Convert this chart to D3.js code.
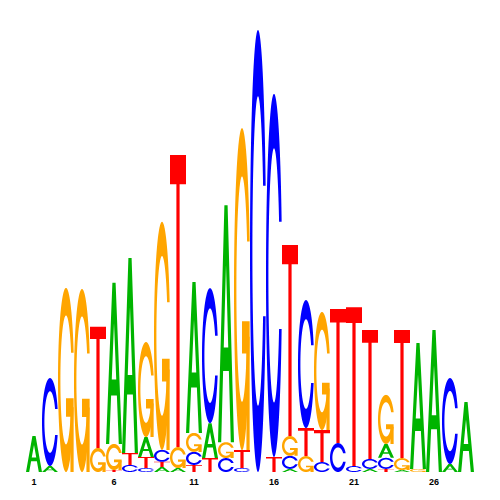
<!DOCTYPE html>
<html><head><meta charset="utf-8">
<script src="https://cdn.jsdelivr.net/npm/d3@7"></script>
<style>html,body{margin:0;padding:0;background:#fff;} svg{display:block}</style>
</head><body>
<svg id="chart" width="500" height="500"></svg>
<script>
// Sequence logo data: information (bits) per base at each position
const positions = d3.range(1, 29);
const bases = ["A", "C", "G", "T"];
const valuesA = [0.163,0.027,0,0,0,0.729,0.882,0.090,0.023,0.018,0.683,0.158,1.072,0,0,0,0.014,0,0,0,0,0.014,0.063,0.009,0.570,0.643,0.036,0.317];
const valuesC = [0,0.398,0,0,0,0,0.032,0.018,0.054,0,0.059,0.611,0.063,0.018,2.0,1.643,0.059,0.579,0.045,0.131,0.027,0.045,0.050,0,0,0,0.389,0];
const valuesG = [0,0,0.833,0.828,0.109,0.118,0,0.430,1.032,0.095,0.086,0,0.072,1.457,0,0,0.090,0.072,0.534,0,0,0,0.222,0.054,0.014,0,0,0];
const valuesT = [0,0,0,0,0.548,0.009,0.054,0.050,0.023,1.321,0.032,0.063,0,0.081,0,0.068,0.864,0.127,0.145,0.606,0.719,0.584,0.014,0.579,0,0,0,0];
const tickLabels = ["1","6","11","16","21","26"];
const colors = {A: "#00b400", C: "#0000ff", G: "#ffa500", T: "#ff0000"};

const svg = d3.select("#chart");
const x = d3.scaleBand().domain(positions).range([26, 474]).padding(0);
const y = d3.scaleLinear().domain([0, 2]).range([472, 30]);

function seqRange(a, b, n) { return d3.range(n).map(i => a + (b - a) * i / (n - 1)); }
function ringShape() {
  const a1 = seqRange(0.3 + Math.PI / 2, Math.PI, 100);
  const a2 = seqRange(Math.PI, 1.5 * Math.PI, 100);
  const xl1 = a1.map(a => 0.5 + 0.5 * Math.sin(a)), yl1 = a1.map(a => 0.5 + 0.5 * Math.cos(a));
  const xl2 = a2.map(a => 0.5 + 0.5 * Math.sin(a)), yl2 = a2.map(a => 0.5 + 0.5 * Math.cos(a));
  const xl = xl1.concat(xl2), yl = yl1.concat(yl2);
  const xo = xl.concat(xl.slice().reverse());
  const yo = yl.concat(yl.slice().reverse().map(v => 1 - v));
  const maxY = d3.max(yl1);
  let xi1 = a1.map(a => 0.5 + 0.35 * Math.sin(a)), yi1 = a1.map(a => 0.5 + 0.35 * Math.cos(a));
  const keep = yi1.map(v => v <= maxY);
  xi1 = xi1.filter((v, i) => keep[i]); yi1 = yi1.filter((v, i) => keep[i]);
  yi1[0] = maxY;
  const xi2 = a2.map(a => 0.5 + 0.35 * Math.sin(a)), yi2 = a2.map(a => 0.5 + 0.35 * Math.cos(a));
  const xi = xi1.concat(xi2), yi = yi1.concat(yi2);
  const x1 = xi.concat(xi.slice().reverse());
  const y1 = yi.concat(yi.slice().reverse().map(v => 1 - v));
  const xs = xo.concat(x1.slice().reverse()), ys = yo.concat(y1.slice().reverse());
  return {pts: xs.map((v, i) => [v, ys[i]]), r1: d3.max(xl1)};
}
const ring = ringShape();
const glyphs = {
  A: [[[0,0],[0.4,1],[0.6,1],[1,0],[0.8,0],[0.68,0.3],[0.32,0.3],[0.2,0],[0,0]],
      [[0.36,0.4],[0.5,0.75],[0.64,0.4],[0.36,0.4]]],
  T: [[[0,1],[1,1],[1,0.9],[0.6,0.9],[0.6,0],[0.4,0],[0.4,0.9],[0,0.9]]],
  C: [ring.pts],
  G: [ring.pts, [[ring.r1,0.4],[0.5,0.4],[0.5,0.3],[ring.r1-0.2,0.3],[ring.r1-0.2,0],[ring.r1,0],[ring.r1,0.4]]]
};

const table = {A: valuesA, C: valuesC, G: valuesG, T: valuesT};
const stacks = positions.map((p, i) => {
  const items = bases.map(b => ({base: b, value: table[b][i]})).filter(d => d.value > 0);
  items.sort((a, b) => a.value - b.value);
  let cum = 0;
  items.forEach(d => { d.y0 = cum; cum += d.value; d.y1 = cum; d.pos = p; });
  return items;
});

const g = svg.append("g");
const letters = stacks.flat();
letters.forEach(d => {
  const x0 = x(d.pos), w = x.bandwidth(), h = d.y1 - d.y0;
  const polys = glyphs[d.base];
  const toPath = poly => "M" + poly.map(pt => (x0 + w * pt[0]).toFixed(2) + "," + y(d.y0 + h * pt[1]).toFixed(2)).join("L") + "Z";
  if (d.base === "A") {
    g.append("path").attr("d", polys.map(toPath).join("")).attr("fill", colors.A).attr("fill-rule", "evenodd");
  } else {
    polys.forEach(poly => g.append("path").attr("d", toPath(poly)).attr("fill", colors[d.base]));
  }
});

svg.append("g").selectAll("text").data(tickLabels).join("text")
  .attr("x", d => x(+d) + x.bandwidth() / 2)
  .attr("y", 485)
  .attr("text-anchor", "middle")
  .attr("font-family", "Liberation Sans, Arial, sans-serif")
  .attr("font-weight", "bold")
  .attr("font-size", 9)
  .text(d => d);
</script>
</body></html>
